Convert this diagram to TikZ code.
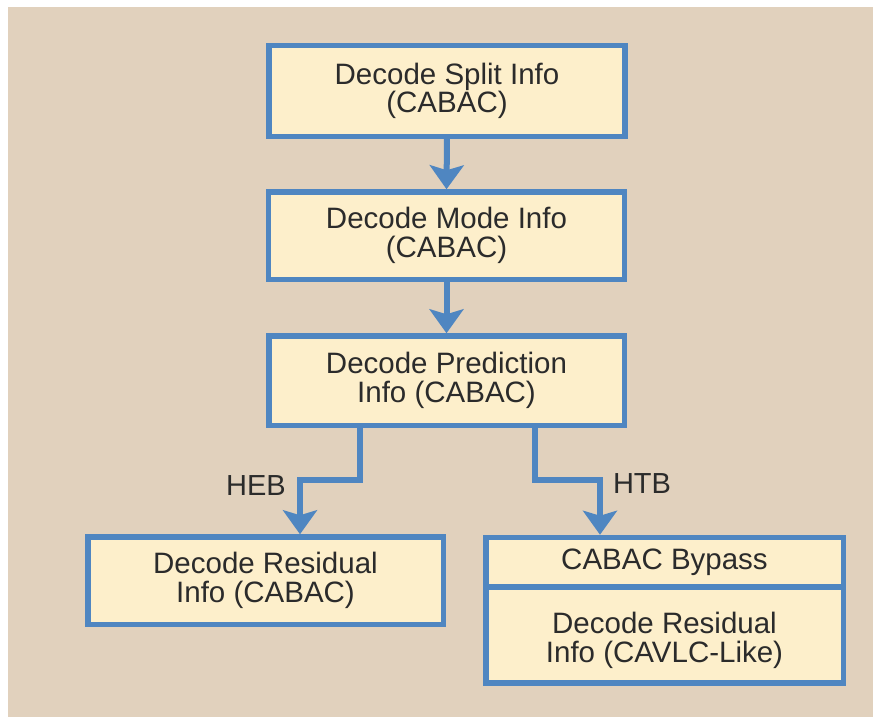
\documentclass[tikz,border=0pt]{standalone}
\usepackage{fontspec}
\setmainfont{Liberation Sans}
\usetikzlibrary{arrows.meta}
\definecolor{paper}{HTML}{E1D1BD}
\definecolor{boxfill}{HTML}{FDEFCB}
\definecolor{edgeblue}{HTML}{4F86C1}
\definecolor{ink}{HTML}{2B2B2B}
\begin{document}
\begin{tikzpicture}[x=1pt,y=-1pt,
  stepbox/.style={draw=edgeblue, line width=5.5pt, fill=boxfill, inner sep=0pt,
    outer sep=0pt, align=center, text=ink, font=\fontsize{29.5}{28.5}\selectfont},
  flow/.style={draw=edgeblue, line width=6pt, line join=miter, shorten >=2.5pt,
    -{Stealth[length=24pt,width=34pt,inset=5pt]}},
  tag/.style={text=ink, font=\fontsize{29}{29}\selectfont, inner sep=0pt}]
  % page and backdrop
  \fill[white] (0,0) rectangle (873,717);
  \fill[paper] (8,7) rectangle (873,717);
  \useasboundingbox (0,0) rectangle (873,717);

  % process boxes
  \node[stepbox, minimum width=356pt, minimum height=90.5pt] (b1) at (447,91)
    {Decode Split Info\\(CABAC)};
  \node[stepbox, minimum width=356pt, minimum height=87.5pt] (b2) at (446.5,235.5)
    {Decode Mode Info\\(CABAC)};
  \node[stepbox, minimum width=355.5pt, minimum height=89.5pt] (b3) at (446.5,380.5)
    {Decode Prediction\\Info (CABAC)};
  \node[stepbox, minimum width=355.5pt, minimum height=87.5pt] (b4) at (265.5,580.5)
    {Decode Residual\\Info (CABAC)};
  \node[stepbox, minimum width=357.5pt, minimum height=49.5pt] (b5t) at (664.5,562)
    {CABAC Bypass};
  % taller strut on the first line pushes this text block a little lower
  \node[stepbox, minimum width=357.5pt, minimum height=96pt, anchor=north] (b5b)
    at (b5t.south) {\rule{0pt}{33pt}Decode Residual\\Info (CAVLC-Like)};

  % straight arrows
  \draw[flow] (b1.south) -- (b2.north);
  \draw[flow] (b2.south) -- (b3.north);

  % branch corners
  \coordinate (hebA) at (360,480);
  \coordinate (hebB) at (300,480);
  \coordinate (htbA) at (535,480);
  \coordinate (htbB) at (600,480);

  \draw[flow] (hebA |- b3.south) -- (hebA) -- (hebB) -- (hebB |- b4.north);
  \draw[flow] (htbA |- b3.south) -- (htbA) -- (htbB) -- (htbB |- b5t.north);

  % branch labels
  \node[tag] (heb) at (256,486) {HEB};
  \node[tag] (htb) at (642,484) {HTB};
\end{tikzpicture}
\end{document}
